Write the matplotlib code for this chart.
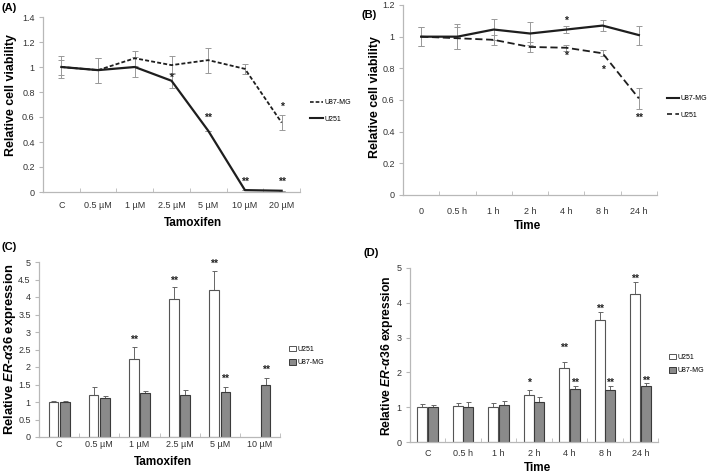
import numpy as np
import matplotlib
matplotlib.use('Agg')
import matplotlib.pyplot as plt
from matplotlib.ticker import FuncFormatter
from matplotlib.patches import Patch
from matplotlib.lines import Line2D

plt.rcParams['font.family'] = ['Liberation Sans', 'DejaVu Sans']
plt.rcParams['mathtext.fontset'] = 'custom'
plt.rcParams['mathtext.it'] = 'Liberation Sans:italic:bold'
plt.rcParams['mathtext.rm'] = 'Liberation Sans:bold'

# ---- data ----
dose_a = ['C', '0.5 µM', '1 µM', '2.5 µM', '5 µM', '10 µM', '20 µM']
a_u87 = [1.0, 0.975, 1.07, 1.015, 1.055, 0.985, 0.555]
a_u87_err = [0.06, 0.10, 0.06, 0.07, 0.10, 0.04, 0.06]
a_u251 = [1.0, 0.975, 1.0, 0.89, 0.49, 0.015, 0.01]
a_u251_err = [0.09, 0.10, 0.08, 0.06, 0.0, 0.0, 0.0]
a_stars = [(3, 0.91, '*'), (4, 0.59, '**'), (5, 0.085, '**'), (6, 0.085, '**'), (6, 0.68, '*')]

time_b = ['0', '0.5 h', '1 h', '2 h', '4 h', '8 h', '24 h']
b_u87 = [1.0, 1.0, 1.045, 1.02, 1.045, 1.07, 1.01]
b_u87_err = [0.06, 0.08, 0.065, 0.07, 0.02, 0.035, 0.06]
b_u251 = [1.0, 0.99, 0.98, 0.935, 0.93, 0.895, 0.61]
b_u251_err = [0.06, 0.07, 0.03, 0.03, 0.02, 0.02, 0.065]
b_stars = [(4, 1.10, '*'), (4, 0.88, '*'), (5, 0.79, '*'), (6, 0.49, '**')]

dose_c = ['C', '0.5 µM', '1 µM', '2.5 µM', '5 µM', '10 µM']
c_u251 = [1.0, 1.2, 2.23, 3.93, 4.2, np.nan]
c_u251_err = [0.02, 0.23, 0.33, 0.36, 0.53, 0.0]
c_u87 = [1.0, 1.12, 1.25, 1.2, 1.3, 1.5]
c_u87_err = [0.03, 0.06, 0.07, 0.15, 0.12, 0.2]
c_stars_u251 = [(2, 2.77, '**'), (3, 4.46, '**'), (4, 4.95, '**')]
c_stars_u87 = [(4, 1.66, '**'), (5, 1.93, '**')]

time_d = ['C', '0.5 h', '1 h', '2 h', '4 h', '8 h', '24 h']
d_u251 = [1.0, 1.03, 1.01, 1.35, 2.12, 3.5, 4.25]
d_u251_err = [0.1, 0.08, 0.1, 0.15, 0.18, 0.25, 0.35]
d_u87 = [1.0, 1.0, 1.07, 1.15, 1.52, 1.48, 1.62]
d_u87_err = [0.05, 0.15, 0.1, 0.15, 0.1, 0.12, 0.07]
d_stars_u251 = [(3, 1.69, '*'), (4, 2.70, '**'), (5, 3.83, '**'), (6, 4.68, '**')]
d_stars_u87 = [(4, 1.70, '**'), (5, 1.70, '**'), (6, 1.77, '**')]

W, H = 709, 475
fig = plt.figure(figsize=(W / 100, H / 100), dpi=100)

def px_axes(l, t, r, b):
    ax = fig.add_axes([l / W, 1 - b / H, (r - l) / W, (b - t) / H])
    ax.px = (l, t, r, b)
    return ax

axis_grey = '#b8b8b8'
line_col = '#1e1e1e'
fmt = FuncFormatter(lambda v, p: '%g' % v)

def style(ax, cats, ymax, ystep, xpad):
    n = len(cats)
    ax.set_xlim(-0.5, n - 0.5)
    ax.set_ylim(0, ymax)
    ax.set_xticks(np.arange(n))
    ax.set_xticklabels(cats)
    ax.set_xticks(np.arange(n + 1) - 0.5, minor=True)
    ax.tick_params(axis='x', which='major', length=0, labelsize=6.5, pad=xpad, labelcolor='#333333')
    ax.tick_params(axis='x', which='minor', length=3, color=axis_grey, direction='in')
    ax.set_yticks(np.arange(0, ymax + 1e-9, ystep))
    ax.yaxis.set_major_formatter(fmt)
    ax.tick_params(axis='y', length=3, color=axis_grey, labelsize=6.5, pad=3, labelcolor='#333333')
    for s in ['top', 'right']:
        ax.spines[s].set_visible(False)
    for s in ['left', 'bottom']:
        ax.spines[s].set_color(axis_grey)
        ax.spines[s].set_linewidth(0.9)

def labels(ax, ylab, ysize, ypos, xlab, xpos):
    # label positions given in figure pixels (centre of text)
    l, t, r, b = ax.px
    ax.set_ylabel(ylab, fontsize=ysize, fontweight='bold', va='center')
    ax.yaxis.set_label_coords((ypos[0] - l) / (r - l), (b - ypos[1]) / (b - t))
    ax.set_xlabel(xlab, fontsize=8.5, fontweight='bold', va='center')
    ax.xaxis.set_label_coords((xpos[0] - l) / (r - l), (b - xpos[1]) / (b - t))

def stars(ax, items, dx=0.0):
    for i, y, s in items:
        ax.text(i + dx, y, s, ha='center', va='center', fontsize=7.5,
                fontweight='bold', color='#222222')

leg_kw = dict(frameon=False, fontsize=5.0, handletextpad=0.25, borderpad=0)

# ---- (A) ----
axA = px_axes(43, 17, 300, 192)
style(axA, dose_a, 1.4, 0.2, 6.5)
x = np.arange(len(dose_a))
axA.errorbar(x, a_u87, yerr=a_u87_err, color=line_col, ls=(0, (2.2, 1.2)), lw=1.3,
             ecolor='#999999', elinewidth=0.7, capsize=2, capthick=0.7)
axA.errorbar(x, a_u251, yerr=a_u251_err, color=line_col, ls='-', lw=1.6,
             ecolor='#999999', elinewidth=0.7, capsize=2, capthick=0.7)
stars(axA, a_stars)
labels(axA, 'Relative cell viability', 8.9, (11, 95), 'Tamoxifen', (193, 223))
hA = [Line2D([], [], color=line_col, ls=(0, (2.2, 1.2)), lw=1.2),
      Line2D([], [], color=line_col, ls='-', lw=1.5)]
fig.legend(hA, ['U87-MG', 'U251'], loc='center left', bbox_to_anchor=(307 / W, 1 - 111 / H),
           handlelength=1.8, labelspacing=1.4, **leg_kw)

# ---- (B) ----
axB = px_axes(403, 5, 657, 195)
style(axB, time_b, 1.2, 0.2, 9)
x = np.arange(len(time_b))
axB.errorbar(x, b_u87, yerr=b_u87_err, color=line_col, ls='-', lw=1.6,
             ecolor='#999999', elinewidth=0.7, capsize=2, capthick=0.7)
axB.errorbar(x, b_u251, yerr=b_u251_err, color=line_col, ls=(0, (4, 2)), lw=1.3,
             ecolor='#999999', elinewidth=0.7, capsize=2, capthick=0.7)
stars(axB, b_stars)
labels(axB, 'Relative cell viability', 8.9, (375, 97), 'Time', (528, 226))
hB = [Line2D([], [], color=line_col, ls='-', lw=1.5),
      Line2D([], [], color=line_col, ls=(0, (3, 2)), lw=1.2)]
fig.legend(hB, ['U87-MG', 'U251'], loc='center left', bbox_to_anchor=(664 / W, 1 - 107 / H),
           handlelength=1.6, labelspacing=1.4, **leg_kw)

# ---- bar panels ----
def bars(ax, cats, v1, e1, v2, e2, width, off):
    x = np.arange(len(cats))
    v1 = np.array(v1, dtype=float)
    ax.bar(x - off, v1, width, color='white', edgecolor='#555555', lw=0.8, zorder=2)
    ax.bar(x + off, v2, width, color='#8a8a8a', edgecolor='#3a3a3a', lw=0.8, zorder=2)
    m1 = ~np.isnan(v1)
    ax.errorbar((x - off)[m1], v1[m1], yerr=[np.zeros(m1.sum()), np.array(e1)[m1]],
                fmt='none', ecolor='#666666', elinewidth=0.7, capsize=1.8, capthick=0.7, zorder=1)
    ax.errorbar(x + off, v2, yerr=[np.zeros(len(v2)), e2],
                fmt='none', ecolor='#666666', elinewidth=0.7, capsize=1.8, capthick=0.7, zorder=1)

er_label = r'Relative $\mathit{ER}$-$\mathit{α36}$ expression'
hC = [Patch(facecolor='white', edgecolor='#555555', lw=0.7),
      Patch(facecolor='#8a8a8a', edgecolor='#3a3a3a', lw=0.7)]

# ---- (C) ----
axC = px_axes(39, 262, 280, 437)
style(axC, dose_c, 5, 0.5, 2.5)
bars(axC, dose_c, c_u251, c_u251_err, c_u87, c_u87_err, 0.24, 0.14)
stars(axC, c_stars_u251, -0.14)
stars(axC, c_stars_u87, 0.14)
labels(axC, er_label, 9.4, (10, 349), 'Tamoxifen', (163, 462))
fig.legend(hC, ['U251', 'U87-MG'], loc='center left', bbox_to_anchor=(286 / W, 1 - 356 / H),
           handlelength=0.9, handleheight=0.9, labelspacing=0.9, **leg_kw)

# ---- (D) ----
axD = px_axes(410, 268, 658, 442)
style(axD, time_d, 5, 1, 5)
bars(axD, time_d, d_u251, d_u251_err, d_u87, d_u87_err, 0.28, 0.15)
stars(axD, d_stars_u251, -0.15)
stars(axD, d_stars_u87, 0.15)
labels(axD, er_label, 8.7, (387, 356), 'Time', (537, 468))
fig.legend(hC, ['U251', 'U87-MG'], loc='center left', bbox_to_anchor=(666 / W, 1 - 364 / H),
           handlelength=0.9, handleheight=0.9, labelspacing=0.9, **leg_kw)

# panel letters
for lab, px, py in [('(A)', 1, 8), ('(B)', 362, 15), ('(C)', 1, 247), ('(D)', 364, 253)]:
    fig.text(px / W, 1 - py / H, lab, fontsize=8, fontweight='bold', ha='left', va='center')

fig.savefig('out.png', dpi=100)
